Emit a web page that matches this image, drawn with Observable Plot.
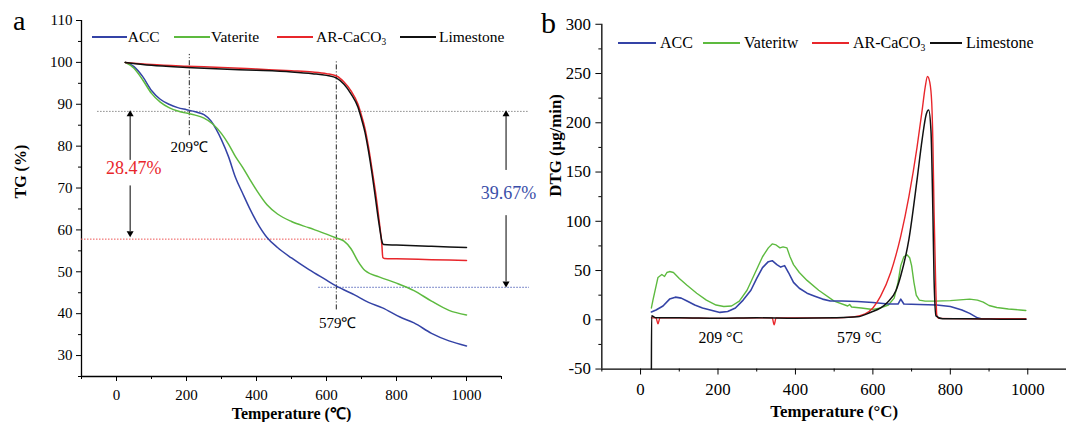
<!DOCTYPE html>
<html>
<head>
<meta charset="utf-8">
<script src="https://cdn.jsdelivr.net/npm/d3@7"></script>
<script src="https://cdn.jsdelivr.net/npm/@observablehq/plot@0.6"></script>
<style>
  html, body { margin: 0; padding: 0; background: #fff; overflow: hidden; }
  #wrap { position: relative; width: 1066px; height: 422px; font-family: "Liberation Serif", serif; color: #000; }
  .abs { position: absolute; white-space: nowrap; }
  svg text { font-family: "Liberation Serif", serif; }
  sub { font-size: 60%; vertical-align: -0.35em; line-height: 0; }
</style>
</head>
<body>
<div id="wrap">
  <div id="pa" class="abs" style="left:0;top:0"></div>
  <div id="pb" class="abs" style="left:530px;top:0"></div>
</div>
<script>
// ---------- Panel a: TG (%) ----------
const accTgT = [25,50,75,100,125,150,175,200,225,250,270,285,300,320,340,360,380,400,430,460,500,550,600,630,680,720,760,810,850,900,950,1000];
const accTgV = [100,99,96.6,93.3,91.2,90,89.2,88.7,88.2,87.5,86,84,81.5,77.5,72.5,68.8,65.2,62,58.2,55.8,53.3,50.5,48,46.5,44.5,42.7,41.4,39.2,37.8,35.3,33.5,32.3];
const vatTgT = [25,50,75,100,125,150,175,200,225,250,275,300,320,340,360,380,400,430,460,500,550,600,630,650,670,690,710,750,800,850,900,950,1000];
const vatTgV = [100,98.6,95.8,92.6,90.5,89.2,88.4,87.9,87.4,86.7,85.3,83,80.5,77.5,75,72.2,69.5,66,63.8,62,60.5,59,58,57.3,55.5,52.5,50.3,48.8,47.3,45.5,43,40.8,39.7];
const arTgT = [25,100,200,300,400,500,560,600,630,650,670,690,700,710,720,730,740,750,758,761,765,800,900,1000];
const arTgV = [100,99.5,99.1,98.8,98.4,98,97.7,97.3,96.7,95.3,93.2,90,87.3,84.2,79.8,74.5,69,62.5,56.6,53.4,53.2,53.1,52.9,52.7];
const lsTgT = [25,100,200,300,400,500,560,600,630,650,670,690,700,710,720,730,740,750,760,763,800,900,1000];
const lsTgV = [100,99.3,98.8,98.4,98.1,97.7,97.3,96.9,96.2,94.8,92.5,89.3,86.5,83.3,78.8,73.5,67.5,61.5,56.8,56.5,56.4,56.1,55.8];

// ---------- Panel b: DTG (µg/min) ----------
const accDtgT = [28,40,58,75,90,105,120,140,160,180,205,225,245,265,285,300,315,330,340,352,362,372,382,395,410,430,450,470,490,520,560,600,640,665,672,680,720,765,800,830,850,870,880,930,995];
const accDtgV = [8,10,14,21,23,22,19,15,12,10,7.5,8.5,12,20,30,42,53,59,60,56,53.5,55,48,38,32,27,24,21,19,19,18.5,17.5,16,16,21,16,15.5,15,13.5,10,6.5,2,1,1,0.5];
const vatDtgT = [28,32,45,55,62,68,75,85,100,120,145,170,195,215,235,255,275,295,315,330,340,350,360,368,378,386,395,410,430,460,500,535,540,545,570,600,620,640,655,665,672,680,688,695,700,706,712,720,735,760,800,850,870,885,900,920,950,980,995];
const vatDtgV = [12,20,43,46,44,48,49,48,42,35,27,20,15,13.5,14,19,30,47,64,73,77,76,73,74,73,64,56,48,40,30,19,14,15.5,13,12,10.5,12,15,22,38,55,64,66,63,55,38,25,20,19,19,19.5,21,20,18,14.5,12.5,11,10,9.5];
const arDtgT = [28,40,45,50,100,200,300,340,345,350,400,500,550,580,600,620,646,672,693,714,727,735,741,747,752,755,758,762,765,770,850,950,995];
const arDtgV = [2,2,-4,2,2,1.5,2,2,-5,2,2,2,3,6,12,24,48,85,125,175,212,236,247,241,220,180,110,40,5,1.5,1,1,1];
const lsDtgT = [28,28.5,40,100,200,300,400,500,560,595,620,638,660,672,693,714,727,738,744,750,755,758,763,780,850,950,995];
const lsDtgV = [-50,4,2,2,1.5,2,1.5,2,3,7.7,12,17.8,30,44.7,81.6,142,182.5,209,213,192,108,41,4,1,1,0.5,0.5];

// series names & colours
const seriesA = ["ACC", "Vaterite", "AR-CaCO3", "Limestone"];
const seriesB = ["ACC", "Vateritw", "AR-CaCO3", "Limestone"];
const colors = ["#3443a6", "#5dba3f", "#e8262b", "#111111"];

// annotation values (panel a)
const markTemps = [208, 628];
const markLabels = ["209℃", "579℃"];
const lossLevels = [88.3, 57.8, 46.3];
const lossLabels = ["28.47%", "39.67%"];
// annotation labels (panel b)
const dtgLabels = ["209 °C", "579 °C"];
const dtgLabelT = [207, 565];

// ticks
const aYMajor = [30,40,50,60,70,80,90,100,110];
const aYMinor = [25,35,45,55,65,75,85,95,105];
const xMajor = [0,200,400,600,800,1000];
const xMinor = [-100,100,300,500,700,900,1100];
const bYMajor = [-50,0,50,100,150,200,250,300];
const bYMinor = [-25,25,75,125,175,225,275];

const rows = (T, V) => T.map((t, i) => ({t, v: V[i]}));
const num = d => String(d);
const font = "'Liberation Serif', serif";

// ----- Panel a -----
const pa = Plot.plot({
  width: 530, height: 422,
  marginLeft: 81, marginRight: 29, marginTop: 20, marginBottom: 46,
  x: {domain: [-100, 1100]},
  y: {domain: [25, 110]},
  style: {fontFamily: font, fontSize: "15px", color: "#000", background: "transparent", overflow: "visible"},
  marks: [
    Plot.axisY({ticks: aYMajor, tickSize: 5, tickPadding: 4, tickFormat: num, label: null, fontSize: 15}),
    Plot.axisY({ticks: aYMinor, tickSize: 3, tickFormat: () => "", label: null}),
    Plot.axisX({ticks: xMajor, tickSize: 5, tickPadding: 8, tickFormat: num, label: null, fontSize: 15}),
    Plot.axisX({ticks: xMinor, tickSize: 3, tickFormat: () => "", label: null}),
    Plot.ruleX([-100], {stroke: "#000", strokeWidth: 1.3}),
    Plot.ruleY([25], {stroke: "#000", strokeWidth: 1.3}),
    // reference levels
    Plot.ruleY([lossLevels[0]], {x1: -54, x2: 1180, stroke: "#8a8a8a", strokeDasharray: "1.5,1.5", strokeWidth: 1}),
    Plot.ruleY([lossLevels[1]], {x1: -100, x2: 667, stroke: "#ee5555", strokeDasharray: "1.5,1.5", strokeWidth: 1}),
    Plot.ruleY([lossLevels[2]], {x1: 578, x2: 1180, stroke: "#5566bb", strokeDasharray: "1.5,1.5", strokeWidth: 1}),
    // temperature markers
    Plot.ruleX([markTemps[0]], {y1: 82.5, y2: 101.9, stroke: "#222", strokeDasharray: "5,2,1,2", strokeWidth: 1}),
    Plot.ruleX([markTemps[1]], {y1: 40.9, y2: 100.5, stroke: "#222", strokeDasharray: "5,2,1,2", strokeWidth: 1}),
    Plot.text([markLabels[0]], {x: markTemps[0], y: 79.7, fontSize: 15}),
    Plot.text([markLabels[1]], {x: markTemps[1] + 4, y: 37.7, fontSize: 15}),
    // loss arrows
    Plot.ruleX([39], {y1: 76.6, y2: 87.4, stroke: "#000", strokeWidth: 1}),
    Plot.ruleX([39], {y1: 59.6, y2: 70.5, stroke: "#000", strokeWidth: 1}),
    Plot.dot([0], {x: 39, y: 87.6, symbol: "triangle", r: 2.6, fill: "#000", stroke: null}),
    Plot.dot([0], {x: 39, y: 59.2, symbol: "triangle", r: 2.6, fill: "#000", stroke: null, rotate: 180}),
    Plot.text([lossLabels[0]], {x: 49, y: 74.8, fill: "#e8262b", fontSize: 18}),
    Plot.ruleX([1113], {y1: 74.2, y2: 87.4, stroke: "#000", strokeWidth: 1}),
    Plot.ruleX([1113], {y1: 47.6, y2: 63.4, stroke: "#000", strokeWidth: 1}),
    Plot.dot([0], {x: 1113, y: 87.6, symbol: "triangle", r: 2.6, fill: "#000", stroke: null}),
    Plot.dot([0], {x: 1113, y: 47.2, symbol: "triangle", r: 2.6, fill: "#000", stroke: null, rotate: 180}),
    Plot.text([lossLabels[1]], {x: 1120, y: 68.7, fill: "#3a4ea8", fontSize: 18}),
    // curves
    Plot.line(rows(accTgT, accTgV), {x: "t", y: "v", stroke: colors[0], strokeWidth: 1.5, curve: "monotone-x"}),
    Plot.line(rows(vatTgT, vatTgV), {x: "t", y: "v", stroke: colors[1], strokeWidth: 1.5, curve: "monotone-x"}),
    Plot.line(rows(arTgT, arTgV), {x: "t", y: "v", stroke: colors[2], strokeWidth: 1.5, curve: "monotone-x"}),
    Plot.line(rows(lsTgT, lsTgV), {x: "t", y: "v", stroke: colors[3], strokeWidth: 1.5, curve: "monotone-x"}),
    // axis labels
    Plot.text(["TG (%)"], {frameAnchor: "left", dx: -61, rotate: -90, fontWeight: "bold", fontSize: 16}),
    Plot.text(["Temperature (℃)"], {frameAnchor: "bottom", dy: 42, fontWeight: "bold", fontSize: 16})
  ]
});
document.getElementById("pa").appendChild(pa);

// ----- Panel b -----
const pb = Plot.plot({
  width: 541, height: 422,
  marginLeft: 72, marginRight: 0, marginTop: 24, marginBottom: 50,
  x: {domain: [-100, 1100]},
  y: {domain: [-50, 300]},
  style: {fontFamily: font, fontSize: "17px", color: "#000", background: "transparent", overflow: "visible"},
  marks: [
    Plot.axisY({ticks: bYMajor, tickSize: 6, tickPadding: 5, tickFormat: num, label: null, fontSize: 17}),
    Plot.axisY({ticks: bYMinor, tickSize: 3, tickFormat: () => "", label: null}),
    Plot.axisX({ticks: xMajor, tickSize: 6, tickPadding: 8, tickFormat: num, label: null, fontSize: 17}),
    Plot.axisX({ticks: xMinor, tickSize: 3, tickFormat: () => "", label: null}),
    Plot.ruleX([-100], {stroke: "#000", strokeWidth: 1.3}),
    Plot.ruleY([-50], {stroke: "#000", strokeWidth: 1.3}),
    Plot.text(dtgLabels, {x: (d, i) => dtgLabelT[i], y: -18, fontSize: 16}),
    Plot.line(rows(vatDtgT, vatDtgV), {x: "t", y: "v", stroke: colors[1], strokeWidth: 1.4}),
    Plot.line(rows(accDtgT, accDtgV), {x: "t", y: "v", stroke: colors[0], strokeWidth: 1.6}),
    Plot.line(rows(arDtgT, arDtgV), {x: "t", y: "v", stroke: colors[2], strokeWidth: 1.4, curve: "monotone-x"}),
    Plot.line(rows(lsDtgT, lsDtgV), {x: "t", y: "v", stroke: colors[3], strokeWidth: 1.5, curve: "monotone-x"}),
    Plot.text(["DTG (μg/min)"], {frameAnchor: "left", dx: -47, rotate: -90, fontWeight: "bold", fontSize: 17}),
    Plot.text(["Temperature (°C)"], {frameAnchor: "bottom", dy: 48, fontWeight: "bold", fontSize: 17})
  ]
});
document.getElementById("pb").appendChild(pb);

// ----- panel letters & legends (HTML overlay) -----
const wrap = document.getElementById("wrap");
function addText(html, left, top, size) {
  const d = document.createElement("div");
  d.className = "abs";
  d.style.cssText += `left:${left}px;top:${top}px;font-size:${size}px;line-height:${size * 1.2}px;`;
  d.innerHTML = html;
  wrap.appendChild(d);
}
function legendLine(x1, x2, cy, color) {
  const d = document.createElement("div");
  d.className = "abs";
  d.style.cssText += `left:${x1}px;top:${cy - 0.75}px;width:${x2 - x1}px;height:1.6px;background:${color}`;
  wrap.appendChild(d);
}
const fmt = s => s.replace("CaCO3", "CaCO<sub>3</sub>");

addText("a", 13, 4, 28);
addText("b", 541, 5, 30);

const legA = {cy: 37, size: 15.5, lines: [[92,127],[174,209.5],[277,312.5],[400,436]], text: [127.7,211,316,439]};
seriesA.forEach((s, i) => {
  legendLine(legA.lines[i][0], legA.lines[i][1], legA.cy, colors[i]);
  addText(fmt(s), legA.text[i], legA.cy - legA.size * 0.6, legA.size);
});
const legB = {cy: 42.7, size: 16, lines: [[618,656],[702.6,740],[812,848.6],[930,961.5]], text: [660,744,853,966]};
seriesB.forEach((s, i) => {
  legendLine(legB.lines[i][0], legB.lines[i][1], legB.cy, colors[i]);
  addText(fmt(s), legB.text[i], legB.cy - legB.size * 0.6, legB.size);
});
</script>
</body>
</html>
